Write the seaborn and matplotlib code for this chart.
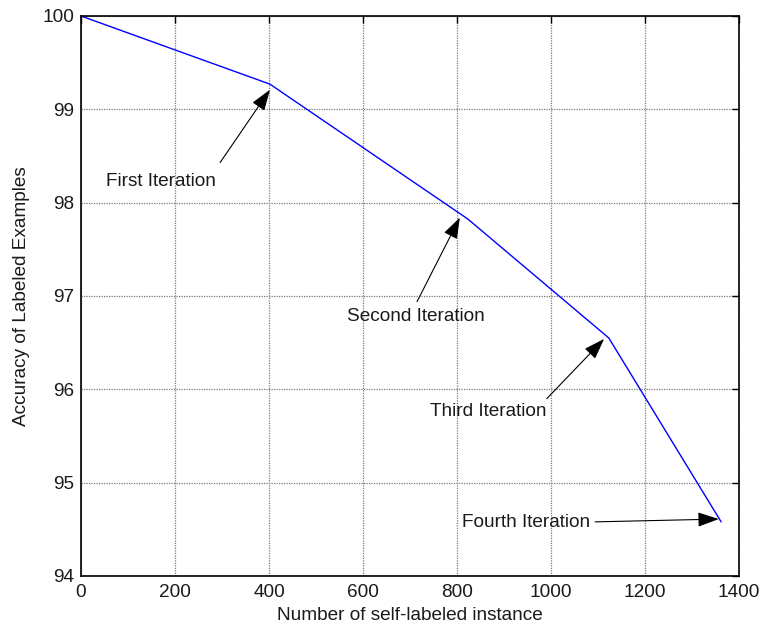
import matplotlib
matplotlib.use("Agg")
import matplotlib.pyplot as plt
import seaborn as sns
import pandas as pd

# Self-training progress: accuracy on labeled examples after each iteration
instances = [0, 402, 823, 1123, 1362]
accuracy = [100.0, 99.27, 97.825, 96.55, 94.58]

iteration_labels = ["First Iteration", "Second Iteration", "Third Iteration", "Fourth Iteration"]
label_pos = [(170, 98.23), (713, 96.78), (866, 95.76), (947, 94.57)]
arrow_tail = [(296, 98.43), (715, 96.94), (991, 95.90), (1094, 94.58)]
arrow_tip = [(402, 99.21), (806, 97.84), (1113, 96.54), (1357, 94.61)]

x_ticks = [0, 200, 400, 600, 800, 1000, 1200, 1400]
y_ticks = [94, 95, 96, 97, 98, 99, 100]

sns.set_style("white")
plt.rcParams["font.family"] = ["Liberation Sans", "DejaVu Sans"]

df = pd.DataFrame({"instances": instances, "accuracy": accuracy})

fig = plt.figure(figsize=(7.62, 6.31), dpi=100)
ax = fig.add_axes([81 / 762, (631 - 576) / 631, 658 / 762, 560 / 631])

sns.lineplot(data=df, x="instances", y="accuracy", ax=ax, color="#0000ff",
             linewidth=1.0, sort=False, estimator=None)

ax.set_xlim(0, 1400)
ax.set_ylim(94, 100)
ax.set_xticks(x_ticks)
ax.set_yticks(y_ticks)
ax.grid(True, color="#7a7a7a", linestyle=(0, (1, 1)), linewidth=0.9)
ax.set_axisbelow(True)

for s in ax.spines.values():
    s.set_visible(True)
    s.set_color("black")
    s.set_linewidth(1.2)

fs = 13.7
ax.tick_params(axis="both", direction="in", length=5, width=1.0,
               top=True, right=True, labelsize=fs, colors="black")
ax.tick_params(axis="x", pad=6)
ax.tick_params(axis="y", pad=5)
for lbl in ax.get_xticklabels() + ax.get_yticklabels():
    lbl.set_color("#1a1a1a")

ax.set_xlabel("Number of self-labeled instance", fontsize=fs, labelpad=4, color="#1a1a1a")
ax.set_ylabel("Accuracy of Labeled Examples", fontsize=fs, labelpad=9, color="#1a1a1a")

for text, (tx, ty), tail, tip in zip(iteration_labels, label_pos, arrow_tail, arrow_tip):
    ax.text(tx, ty, text, ha="center", va="center", fontsize=fs, color="#1a1a1a")
    ax.annotate("", xy=tip, xytext=tail,
                arrowprops=dict(arrowstyle="-|>,head_length=1.3,head_width=0.45",
                                color="black", lw=0.8, shrinkA=0, shrinkB=0))

fig.savefig("out.png", dpi=100)
